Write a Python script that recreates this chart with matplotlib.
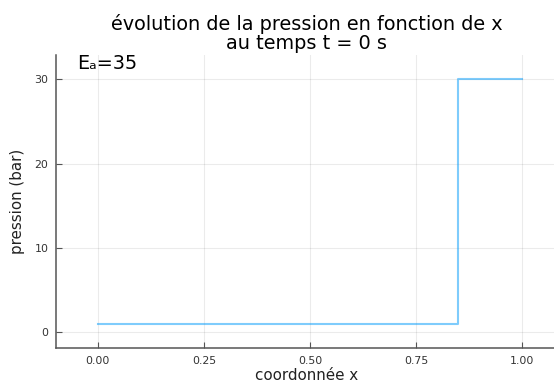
import numpy as np
import matplotlib
matplotlib.use('Agg')
import matplotlib.pyplot as plt

# profil de pression initial (marche)
x = [0.0, 0.85, 0.85, 1.0]
p = [1.0, 1.0, 30.0, 30.0]
xticks = [0.0, 0.25, 0.5, 0.75, 1.0]
xticklabels = ['0.00', '0.25', '0.50', '0.75', '1.00']
yticks = [0, 10, 20, 30]
Ea = 35

fig = plt.figure(figsize=(5.54, 3.85), dpi=100)
ax = fig.add_axes([0.101, 0.096, 0.917, 0.761])

ax.plot(x, p, color='#009afa', alpha=0.5, linewidth=1.5)

ax.set_xlim(-0.099, 1.099)
ax.set_ylim(-1.9, 32.9)
ax.set_xticks(xticks)
ax.set_xticklabels(xticklabels)
ax.set_yticks(yticks)
ax.grid(True, color='black', alpha=0.08, linewidth=0.8)
ax.set_axisbelow(True)

for s in ['top', 'right']:
    ax.spines[s].set_visible(False)
for s in ['left', 'bottom']:
    ax.spines[s].set_color('#555555')
    ax.spines[s].set_linewidth(1.1)
ax.tick_params(direction='in', length=4, width=0.8, color='#555555',
               labelsize=7.9, labelcolor='#333333', pad=5.5)

ax.set_title('évolution de la pression en fonction de x\nau temps t = 0 s',
             fontsize=13.9, linespacing=1.05, pad=4, x=0.493)
ax.set_xlabel('coordonnée x', fontsize=10.9, color='#222222')
ax.set_ylabel('pression (bar)', fontsize=10.9, color='#222222')
ax.xaxis.set_label_coords(0.493, -0.068)
ax.yaxis.set_label_coords(-0.06, 0.5)

ax.text(-0.05, 31.3, 'E\u2090=%d' % Ea, fontsize=13.9, ha='left', va='baseline',
        clip_on=False)

fig.savefig('out.png', dpi=100)
